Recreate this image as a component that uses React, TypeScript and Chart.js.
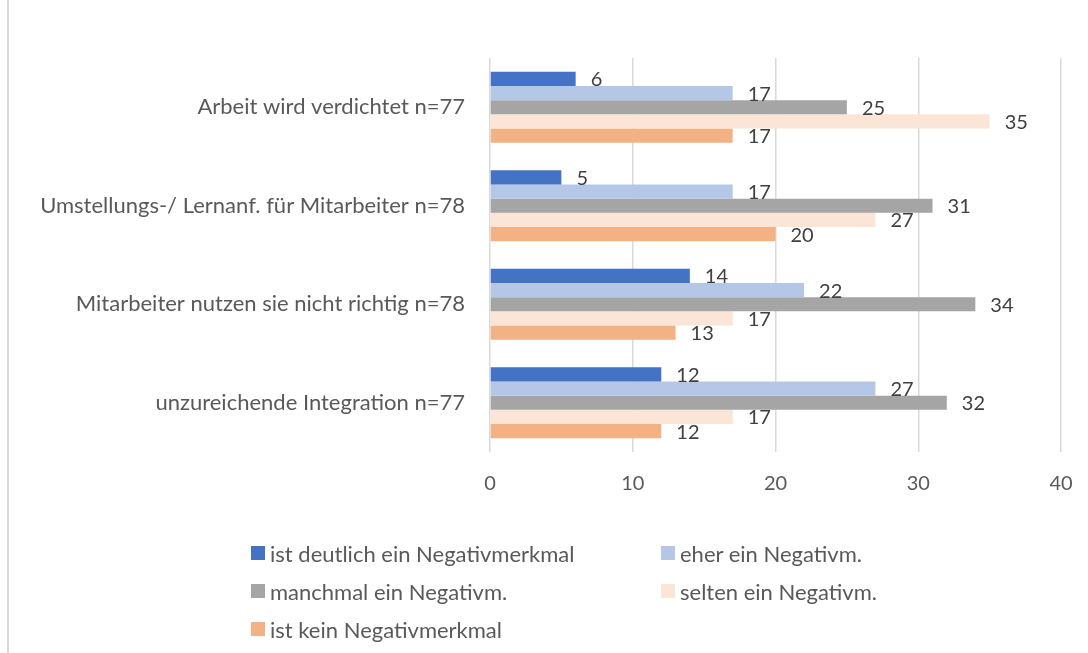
import React, { useEffect, useRef } from "react";
import { Chart, registerables } from "chart.js";

Chart.register(...registerables);

const categories = [
  "Arbeit wird verdichtet n=77",
  "Umstellungs-/ Lernanf. für Mitarbeiter n=78",
  "Mitarbeiter nutzen sie nicht richtig n=78",
  "unzureichende Integration n=77",
];

const seriesLabels = [
  "ist deutlich ein Negativmerkmal",
  "eher ein Negativm.",
  "manchmal ein Negativm.",
  "selten ein Negativm.",
  "ist kein Negativmerkmal",
];

const deutlich = [6, 5, 14, 12];
const eher = [17, 17, 22, 27];
const manchmal = [25, 31, 34, 32];
const selten = [35, 27, 17, 17];
const kein = [17, 20, 13, 12];

const seriesValues = [deutlich, eher, manchmal, selten, kein];
const seriesColors = ["#4472C4", "#B4C7E7", "#A5A5A5", "#FBE5D6", "#F4B183"];

const xTicks = [0, 10, 20, 30, 40];

const FONT = "Lato";

const dataLabelPlugin = {
  id: "dataLabels",
  afterDatasetsDraw(chart: any) {
    const ctx = chart.ctx;
    ctx.save();
    ctx.font = `20px ${FONT}`;
    ctx.fillStyle = "#404040";
    ctx.textAlign = "left";
    ctx.textBaseline = "middle";
    chart.data.datasets.forEach((ds: any, i: number) => {
      const meta = chart.getDatasetMeta(i);
      meta.data.forEach((bar: any, j: number) => {
        ctx.fillText(String(ds.data[j]), bar.x + 15, bar.y + 1);
      });
    });
    ctx.restore();
  },
};

export default function App() {
  const ref = useRef<HTMLCanvasElement>(null);

  useEffect(() => {
    if (!ref.current) return;
    const chart = new Chart(ref.current, {
      type: "bar",
      data: {
        labels: categories,
        datasets: seriesLabels.map((label, i) => ({
          label,
          data: seriesValues[i],
          backgroundColor: seriesColors[i],
          categoryPercentage: 0.72,
          barPercentage: 1,
        })),
      },
      options: {
        indexAxis: "y",
        responsive: false,
        animation: false,
        layout: { padding: { left: 0, right: 27, top: 58, bottom: 161 } },
        plugins: {
          legend: { display: false },
          tooltip: { enabled: false },
          title: { display: false },
        },
        scales: {
          x: {
            min: 0,
            max: 40,
            afterBuildTicks: (scale: any) => {
              scale.ticks = xTicks.map((v) => ({ value: v }));
            },
            afterFit: (scale: any) => {
              scale.height = 40;
              scale.paddingLeft = 0;
              scale.paddingRight = 0;
            },
            grid: { color: "#D9D9D9", lineWidth: 1.5, drawTicks: false },
            border: { display: false },
            ticks: {
              padding: 20,
              color: "#595959",
              font: { family: FONT, size: 20 },
            },
          },
          y: {
            afterFit: (scale: any) => {
              scale.width = 490;
              scale.paddingTop = 0;
              scale.paddingBottom = 0;
            },
            grid: { display: false, drawTicks: false },
            border: { display: false },
            ticks: {
              padding: 25,
              color: "#595959",
              font: { family: FONT, size: 22 },
            },
          },
        },
      },
      plugins: [dataLabelPlugin],
    });
    return () => chart.destroy();
  }, []);

  return (
    <div
      style={{
        position: "fixed",
        left: 0,
        top: 0,
        width: 1088,
        height: 653,
        background: "#fff",
        overflow: "hidden",
      }}
    >
      <div
        style={{
          position: "absolute",
          left: 7,
          top: 0,
          width: 2,
          height: 653,
          background: "#D9D9D9",
        }}
      />
      <canvas
        ref={ref}
        width={1088}
        height={653}
        style={{ position: "absolute", left: 0, top: 0 }}
      />
      <div
        style={{
          position: "absolute",
          left: 251,
          top: 534,
          display: "grid",
          gridTemplateColumns: "410px 320px",
          rowGap: 0,
          fontFamily: FONT,
          fontSize: 22,
          color: "#595959",
        }}
      >
        {seriesLabels.map((label, i) => (
          <div
            key={label}
            style={{ display: "flex", alignItems: "center", height: 38 }}
          >
            <span
              style={{
                display: "inline-block",
                width: 14,
                height: 14,
                background: seriesColors[i],
                marginRight: 5,
                flex: "none",
              }}
            />
            <span style={{ whiteSpace: "nowrap" }}>{label}</span>
          </div>
        ))}
      </div>
    </div>
  );
}
